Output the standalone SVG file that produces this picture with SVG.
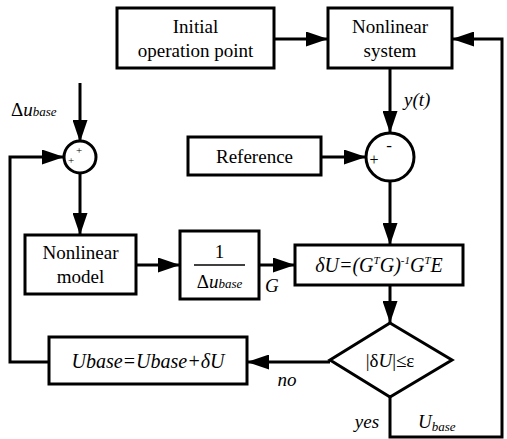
<svg xmlns="http://www.w3.org/2000/svg" width="507" height="439" viewBox="0 0 507 439">
<defs>
<marker id="ah" viewBox="0 0 22 15" refX="22" refY="7.5" markerWidth="22" markerHeight="15" markerUnits="userSpaceOnUse" orient="auto">
<path d="M0,0 L22,7.5 L0,15 Z" fill="#000"/>
</marker>
<style>
.box{fill:#fff;stroke:#000;stroke-width:3}
.arr{fill:none;stroke:#000;stroke-width:3;marker-end:url(#ah)}
.t{font-size:19px;text-anchor:middle}
.i{font-style:italic}
</style>
</defs>
<rect width="507" height="439" fill="#fff"/>
<g id="connectors">
<line class="arr" x1="274" y1="39" x2="328" y2="39"/>
<line class="arr" x1="390" y1="68" x2="390" y2="133"/>
<line class="arr" x1="321" y1="157" x2="366" y2="157"/>
<line class="arr" x1="390" y1="181" x2="390" y2="245"/>
<line class="arr" x1="80" y1="83" x2="80" y2="142"/>
<polyline class="arr" points="48,362 10,362 10,157 64,157"/>
<line class="arr" x1="80" y1="173" x2="80" y2="235"/>
<line class="arr" x1="136" y1="265" x2="180" y2="265"/>
<line class="arr" x1="259" y1="265" x2="295" y2="265"/>
<line class="arr" x1="390" y1="285" x2="390" y2="323"/>
<line class="arr" x1="330" y1="362" x2="247" y2="362"/>
<polyline class="arr" points="390,397 390,437 502,437 502,39 452,39"/>
</g>
<g font-family="Liberation Serif, serif" fill="#000">
<g id="initial">
<rect class="box" x="117" y="8" width="157" height="60"/>
<text class="t" x="195.5" y="33" font-family="Liberation Serif">Initial</text>
<text class="t" x="195.5" y="57" font-family="Liberation Serif">operation point</text>
</g>
<g id="nonlinear-system">
<rect class="box" x="328" y="8" width="124" height="60"/>
<text class="t" x="390" y="33" font-family="Liberation Serif">Nonlinear</text>
<text class="t" x="390" y="57" font-family="Liberation Serif">system</text>
</g>
<text class="i" x="404" y="106" font-size="19" font-family="Liberation Serif">y(t)</text>
<g id="sum2">
<circle class="box" cx="390" cy="157" r="24"/>
<text x="389" y="151" font-size="17" text-anchor="middle" font-family="Liberation Serif">-</text>
<text x="374" y="165" font-size="16" text-anchor="middle" font-family="Liberation Serif">+</text>
</g>
<g id="reference">
<rect class="box" x="188" y="137" width="133" height="38"/>
<text class="t" x="254.5" y="163" font-family="Liberation Serif">Reference</text>
</g>
<g id="sum1">
<circle class="box" cx="80" cy="157" r="16"/>
<text x="79" y="154" font-size="11" text-anchor="middle" font-family="Liberation Serif">+</text>
<text x="71" y="164" font-size="11" text-anchor="middle" font-family="Liberation Serif">+</text>
</g>
<text x="11" y="116" font-size="19" font-family="Liberation Serif">Δ<tspan class="i">u</tspan><tspan class="i" font-size="13">base</tspan></text>
<g id="nonlinear-model">
<rect class="box" x="25" y="235" width="111" height="59"/>
<text class="t" x="80.5" y="259" font-family="Liberation Serif">Nonlinear</text>
<text class="t" x="80.5" y="283" font-family="Liberation Serif">model</text>
</g>
<g id="gain">
<rect class="box" x="180" y="231" width="79" height="68"/>
<text class="t" x="219.5" y="258" font-family="Liberation Serif">1</text>
<line x1="194" y1="265" x2="245" y2="265" stroke="#000" stroke-width="1.5"/>
<text x="219.5" y="288" font-size="19" text-anchor="middle" font-family="Liberation Serif">Δ<tspan class="i">u</tspan><tspan class="i" font-size="13">base</tspan></text>
</g>
<text class="i" x="265" y="292" font-size="19" font-family="Liberation Serif">G</text>
<g id="deltaU">
<rect class="box" x="295" y="245" width="168" height="40"/>
<text class="i" x="379" y="272" font-size="20" text-anchor="middle" font-family="Liberation Serif">δU=(G<tspan font-size="11" dy="-8">T</tspan><tspan dy="8">G)</tspan><tspan font-size="11" dy="-8">-1</tspan><tspan dy="8">G</tspan><tspan font-size="11" dy="-8">T</tspan><tspan dy="8">E</tspan></text>
</g>
<g id="decision">
<polygon class="box" points="390,323 452,360 390,397 330,360"/>
<text x="390" y="367" font-size="19" text-anchor="middle" font-family="Liberation Serif">|δ<tspan class="i">U</tspan>|≤ε</text>
</g>
<g id="update">
<rect class="box" x="49" y="337" width="198" height="47"/>
<text class="i" x="148" y="368" font-size="20" text-anchor="middle" font-family="Liberation Serif">Ubase=Ubase+δU</text>
</g>
<text class="i" x="287" y="386" font-size="19" text-anchor="middle" font-family="Liberation Serif">no</text>
<text class="i" x="367" y="428" font-size="19" text-anchor="middle" font-family="Liberation Serif">yes</text>
<text class="i" x="418" y="428" font-size="19" font-family="Liberation Serif">U<tspan font-size="13" dy="3">base</tspan></text>
</g>
</svg>
